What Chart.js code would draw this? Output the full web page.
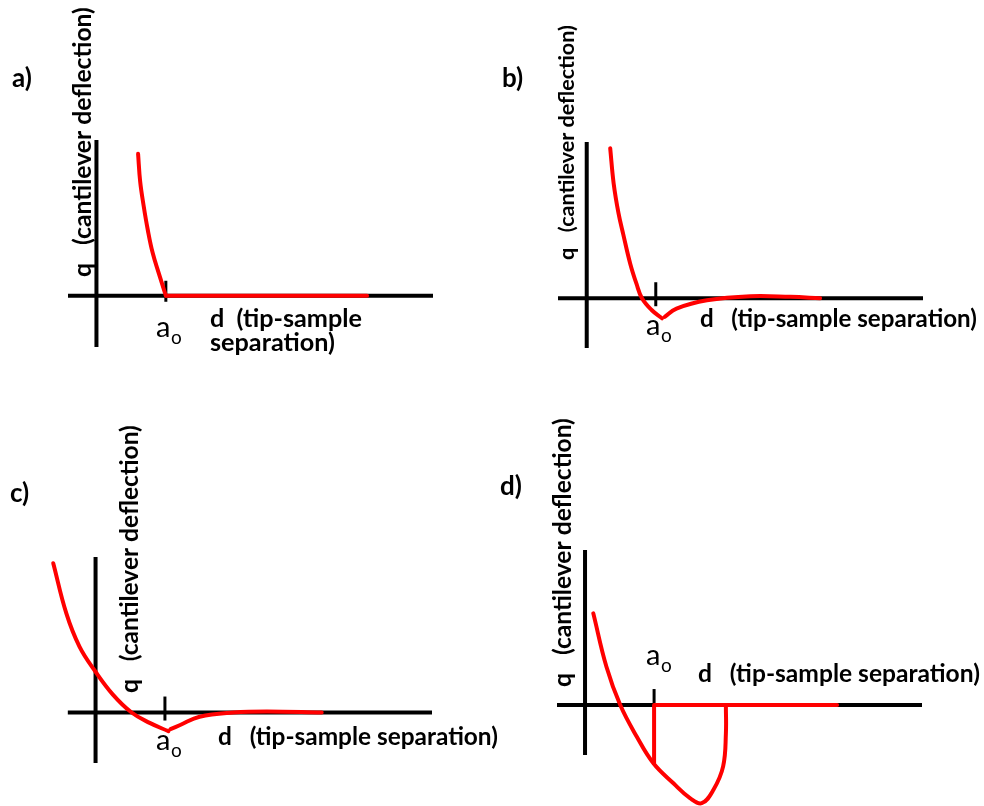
<!DOCTYPE html>
<html>
<head>
<meta charset="utf-8">
<script src="https://cdn.jsdelivr.net/npm/chart.js@4.4.1/dist/chart.umd.min.js"></script>
<style>
	body { margin: 0; background: #fff; }
	#wrap { position: relative; width: 984px; height: 806px; }
	canvas { position: absolute; }
</style>
</head>
<body>
<div id="wrap">
	<canvas id="panelA" width="490" height="400" style="left:0px;top:0px"></canvas>
	<canvas id="panelB" width="494" height="400" style="left:490px;top:0px"></canvas>
	<canvas id="panelC" width="520" height="406" style="left:0px;top:400px"></canvas>
	<canvas id="panelD" width="494" height="406" style="left:490px;top:400px"></canvas>
</div>
<script>
// units: x in multiples of a0, y in the same units (deflection)

// a) hard contact, no attraction
const aRangeX = [-0.41, 4.85];
const aRangeY = [-0.74, 2.25];
const aAxisX = [-0.41, 4.85];
const aRepulsiveX = [0.60, 0.63, 0.68, 0.74, 0.81, 0.90, 1.00];
const aRepulsiveY = [2.05, 1.65, 1.30, 0.95, 0.62, 0.32, 0.00];
const aFlatX = [1.00, 3.90];
const aFlatY = [0.00, 0.00];

// b) weak attraction
const bRangeX = [-0.416, 4.87];
const bRangeY = [-0.72, 2.26];
const bAxisX = [-0.416, 4.87];
const bRepulsiveX = [0.34, 0.39, 0.46, 0.53, 0.63, 0.72, 0.80, 0.94, 1.09];
const bRepulsiveY = [2.17, 1.66, 1.23, 0.92, 0.50, 0.21, 0.00, -0.17, -0.29];
const bAttractiveX = [1.13, 1.30, 1.74, 2.37, 2.95, 3.38];
const bAttractiveY = [-0.27, -0.15, -0.03, 0.03, 0.02, 0.00];

// c) softer contact (curve starts left of the q axis)
const cRangeX = [-0.70, 4.85];
const cRangeY = [-0.73, 2.25];
const cAxisX = [-0.40, 4.85];
const cRepulsiveX = [-0.61, -0.42, -0.23, 0.00, 0.25, 0.52, 0.78, 1.05];
const cRepulsiveY = [2.16, 1.43, 0.95, 0.59, 0.26, 0.00, -0.15, -0.27];
const cAttractiveX = [1.08, 1.22, 1.50, 1.99, 2.47, 3.26];
const cAttractiveY = [-0.24, -0.18, -0.06, 0.00, 0.015, 0.00];

// d) snap-in / hysteresis
const dRangeX = [-0.406, 4.88];
const dRangeY = [-0.725, 2.25];
const dAxisX = [-0.406, 4.88];
const dLoopX = [0.12, 0.31, 0.51, 0.75, 0.99, 1.28, 1.52, 1.69, 1.86, 2.00, 2.04, 2.04];
const dLoopY = [1.33, 0.555, 0.00, -0.46, -0.845, -1.135, -1.35, -1.425, -1.23, -0.89, -0.41, -0.02];
const dJumpX = [1.00, 1.00, 3.65];
const dJumpY = [-0.845, 0.00, 0.00];

const RED = "rgb(255, 0, 0)";
const FONT = "Lato, 'DejaVu Sans', sans-serif";

function pts(xs, ys) {
	return xs.map((x, i) => ({ x: x, y: ys[i] }));
}

function line(xs, ys, tension) {
	return {
		data: pts(xs, ys),
		showLine: true,
		borderColor: RED,
		borderWidth: 4,
		borderCapStyle: "round",
		borderJoinStyle: "round",
		pointRadius: 0,
		tension: tension,
		clip: false,
	};
}

function fitSize(ctx, text, width, weight) {
	ctx.font = weight + " 20px " + FONT;
	return (20 * width) / ctx.measureText(text).width;
}

const sketchPlugin = {
	id: "sketch",
	beforeDatasetsDraw(chart, args, opts) {
		const ctx = chart.ctx;
		const area = chart.chartArea;
		const xs = chart.scales.x;
		const x0 = xs.getPixelForValue(0);
		const y0 = chart.scales.y.getPixelForValue(0);
		const xt = xs.getPixelForValue(1);
		ctx.save();
		ctx.strokeStyle = "#000";
		ctx.lineWidth = 4;
		ctx.beginPath();
		ctx.moveTo(xs.getPixelForValue(opts.axisX[0]), y0);
		ctx.lineTo(xs.getPixelForValue(opts.axisX[1]), y0);
		ctx.moveTo(x0, area.top);
		ctx.lineTo(x0, area.bottom);
		ctx.stroke();
		ctx.lineWidth = 3;
		ctx.beginPath();
		ctx.moveTo(xt, y0 - opts.tickUp);
		ctx.lineTo(xt, y0 + opts.tickDown);
		ctx.stroke();
		ctx.restore();
	},
	afterDraw(chart, args, opts) {
		const ctx = chart.ctx;
		ctx.save();
		ctx.fillStyle = "#000";
		ctx.textAlign = "left";
		ctx.textBaseline = "alphabetic";

		// panel letter
		ctx.font = "bold 26px " + FONT;
		ctx.fillText(opts.tag, opts.tagX, opts.tagY);

		// rotated y label
		const qText = "q   (cantilever deflection)";
		const qSize = fitSize(ctx, qText, opts.qLen, "bold");
		ctx.save();
		ctx.translate(opts.qX, opts.qY);
		ctx.rotate(-Math.PI / 2);
		ctx.textBaseline = "middle";
		ctx.font = "bold " + qSize + "px " + FONT;
		ctx.fillText(qText, 0, 0);
		ctx.restore();

		// a0
		ctx.font = "29px " + FONT;
		ctx.fillText("a", opts.a0X, opts.a0Y);
		ctx.font = "19px " + FONT;
		ctx.fillText("o", opts.a0X + 15, opts.a0Y + 7);

		// x label
		const dSize = fitSize(ctx, opts.dLines[0], opts.dLen, "bold");
		ctx.font = "bold " + dSize + "px " + FONT;
		opts.dLines.forEach((t, i) => {
			ctx.fillText(t, opts.dX, opts.dY + i * 24);
		});
		ctx.restore();
	},
};

function makeChart(id, datasets, rangeX, rangeY, padding, sketch) {
	return new Chart(document.getElementById(id), {
		type: "scatter",
		data: { datasets: datasets },
		options: {
			responsive: false,
			animation: false,
			events: [],
			layout: { padding: padding },
			scales: {
				x: { type: "linear", display: false, min: rangeX[0], max: rangeX[1] },
				y: { type: "linear", display: false, min: rangeY[0], max: rangeY[1] },
			},
			plugins: {
				legend: { display: false },
				tooltip: { enabled: false },
				sketch: sketch,
			},
		},
		plugins: [sketchPlugin],
	});
}

var chartA = makeChart(
	"panelA",
	[line(aRepulsiveX, aRepulsiveY, 0.4), line(aFlatX, aFlatY, 0)],
	aRangeX,
	aRangeY,
	{ left: 68, right: 57, top: 140, bottom: 53 },
	{
		axisX: aAxisX, tickUp: 15, tickDown: 6,
		tag: "a)", tagX: 12, tagY: 87,
		qX: 83, qY: 277, qLen: 270,
		a0X: 156, a0Y: 337,
		dLines: ["d  (tip-sample", "separation)"], dX: 210, dY: 327, dLen: 152,
	}
);

var chartB = makeChart(
	"panelB",
	[line(bRepulsiveX, bRepulsiveY, 0.4), line(bAttractiveX, bAttractiveY, 0.4)],
	bRangeX,
	bRangeY,
	{ left: 68, right: 61, top: 142, bottom: 52 },
	{
		axisX: bAxisX, tickUp: 16, tickDown: 8,
		tag: "b)", tagX: 12, tagY: 87,
		qX: 77, qY: 260, qLen: 235,
		a0X: 156, a0Y: 335,
		dLines: ["d   (tip-sample separation)"], dX: 210, dY: 327, dLen: 277,
	}
);

var chartC = makeChart(
	"panelC",
	[line(cRepulsiveX, cRepulsiveY, 0.4), line(cAttractiveX, cAttractiveY, 0.4)],
	cRangeX,
	cRangeY,
	{ left: 47, right: 88, top: 157, bottom: 43 },
	{
		axisX: cAxisX, tickUp: 16, tickDown: 8,
		tag: "c)", tagX: 10, tagY: 102,
		qX: 130, qY: 293, qLen: 268,
		a0X: 156, a0Y: 350,
		dLines: ["d   (tip-sample separation)"], dX: 218, dY: 345, dLen: 280,
	}
);

var chartD = makeChart(
	"panelD",
	[line(dLoopX, dLoopY, 0.4), line(dJumpX, dJumpY, 0)],
	dRangeX,
	dRangeY,
	{ left: 67, right: 62, top: 150, bottom: 51 },
	{
		axisX: dAxisX, tickUp: 16, tickDown: 0,
		tag: "d)", tagX: 10, tagY: 95,
		qX: 73, qY: 287, qLen: 269,
		a0X: 156, a0Y: 265,
		dLines: ["d   (tip-sample separation)"], dX: 208, dY: 282, dLen: 282,
	}
);
</script>
</body>
</html>
